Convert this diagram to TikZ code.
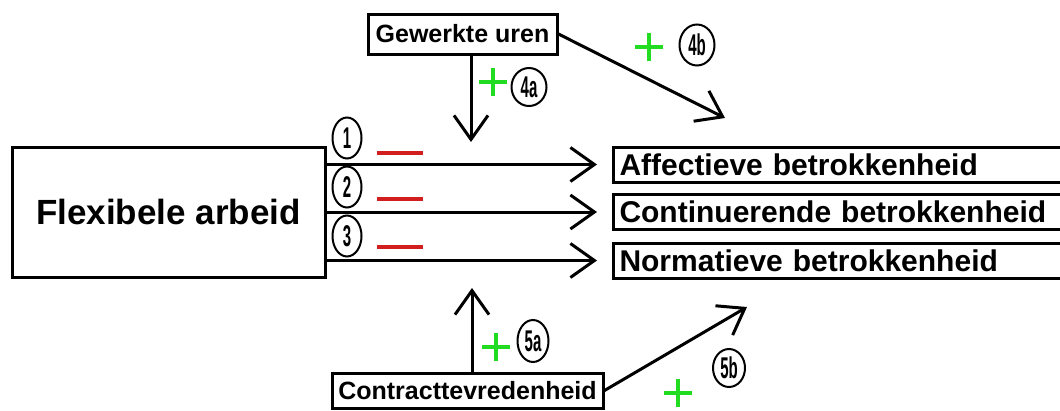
\documentclass[tikz,border=0pt]{standalone}
\usepackage{fontspec}
\setmainfont{Liberation Sans}
\usepackage{tikz}
\usepackage{xcolor}
\usetikzlibrary{arrows.meta, shapes.geometric}
\definecolor{plusgreen}{RGB}{34, 220, 34}
\definecolor{minred}{RGB}{210, 30, 30}
\newcommand{\numlbl}[1]{\scalebox{0.5}[1]{\bfseries #1}}
\tikzset{
    basebox/.style={draw, line width=3pt, inner sep=0pt},
    mainbox/.style={basebox, minimum width=313pt, minimum height=130pt, font=\fontsize{35}{40}\selectfont\bfseries},
    modbox/.style={basebox, font=\fontsize{25}{28}\selectfont\bfseries},
    outbox/.style={basebox, anchor=west, minimum height=35pt, text width=460pt, align=left, inner xsep=6pt, font=\fontsize{30}{34}\selectfont\bfseries},
    numcirc/.style={ellipse, draw, line width=2pt, minimum width=29pt, minimum height=41pt, inner sep=0pt, font=\fontsize{30}{30}\selectfont},
    plusmark/.style={minimum size=28pt, inner sep=0pt, path picture={\draw[plusgreen, line width=4pt] (path picture bounding box.north) -- (path picture bounding box.south) (path picture bounding box.west) -- (path picture bounding box.east);}},
    minusmark/.style={fill=minred, minimum width=46pt, minimum height=4pt, inner sep=0pt},
    effect/.style={line width=3pt, -{Straight Barb[length=24pt, width=34pt]}}
}

\begin{document}
\begin{tikzpicture}[x=1pt, y=-1pt]
    \useasboundingbox (0,0) rectangle (1060,410);
    \node[mainbox] (flex) at (168.5,212) {Flexibele arbeid};
    \node[outbox] (aff) at (612,164.5) {Affectieve betrokkenheid};
    \node[outbox] (cont) at (612,212) {Continuerende betrokkenheid};
    \node[outbox] (norm) at (612,260.5) {Normatieve betrokkenheid};
    \node[modbox, minimum width=189pt, minimum height=40pt] (uren) at (462.5,34) {Gewerkte uren};
    \node[modbox, minimum width=271pt, minimum height=35pt] (tevr) at (467.5,390.5) {Contracttevredenheid};

    % hoofdeffecten
    \draw[effect] (flex.east |- aff.west) -- ([xshift=-15pt]aff.west);
    \draw[effect] (flex.east |- cont.west) -- ([xshift=-15pt]cont.west);
    \draw[effect] (flex.east |- norm.west) -- ([xshift=-15pt]norm.west);

    % moderatoren
    \coordinate (urentip) at (471,142);
    \coordinate (afftip) at (725,118);
    \coordinate (tevrtip) at (472,288);
    \coordinate (normtip) at (747,307);
    \draw[effect] (uren.south -| urentip) -- (urentip);
    \draw[effect] (uren.east) -- (afftip);
    \draw[effect] (tevr.north -| tevrtip) -- (tevrtip);
    \draw[effect] (tevr.east) -- (normtip);

    % nummers en tekens
    \node[numcirc] (n1) at (347,138) {\numlbl{1}};
    \node[numcirc] (n2) at (347,187) {\numlbl{2}};
    \node[numcirc] (n3) at (347,236) {\numlbl{3}};
    \node[numcirc, minimum width=35pt, minimum height=38pt] (n4a) at (529,87) {\numlbl{4a}};
    \node[numcirc, minimum width=35pt] (n4b) at (697,45) {\numlbl{4b}};
    \node[numcirc, minimum width=31pt, minimum height=42pt] (n5a) at (533,341) {\numlbl{5a}};
    \node[numcirc, minimum width=32pt, minimum height=38pt] (n5b) at (729,368) {\numlbl{5b}};

    \node[minusmark] (m1) at (400,153) {};
    \node[minusmark] (m2) at (400,199) {};
    \node[minusmark] (m3) at (400,247) {};
    \node[plusmark] (p4a) at (493,82) {};
    \node[plusmark] (p4b) at (649,47) {};
    \node[plusmark] (p5a) at (496,347) {};
    \node[plusmark] (p5b) at (678,393) {};
\end{tikzpicture}
\end{document}
